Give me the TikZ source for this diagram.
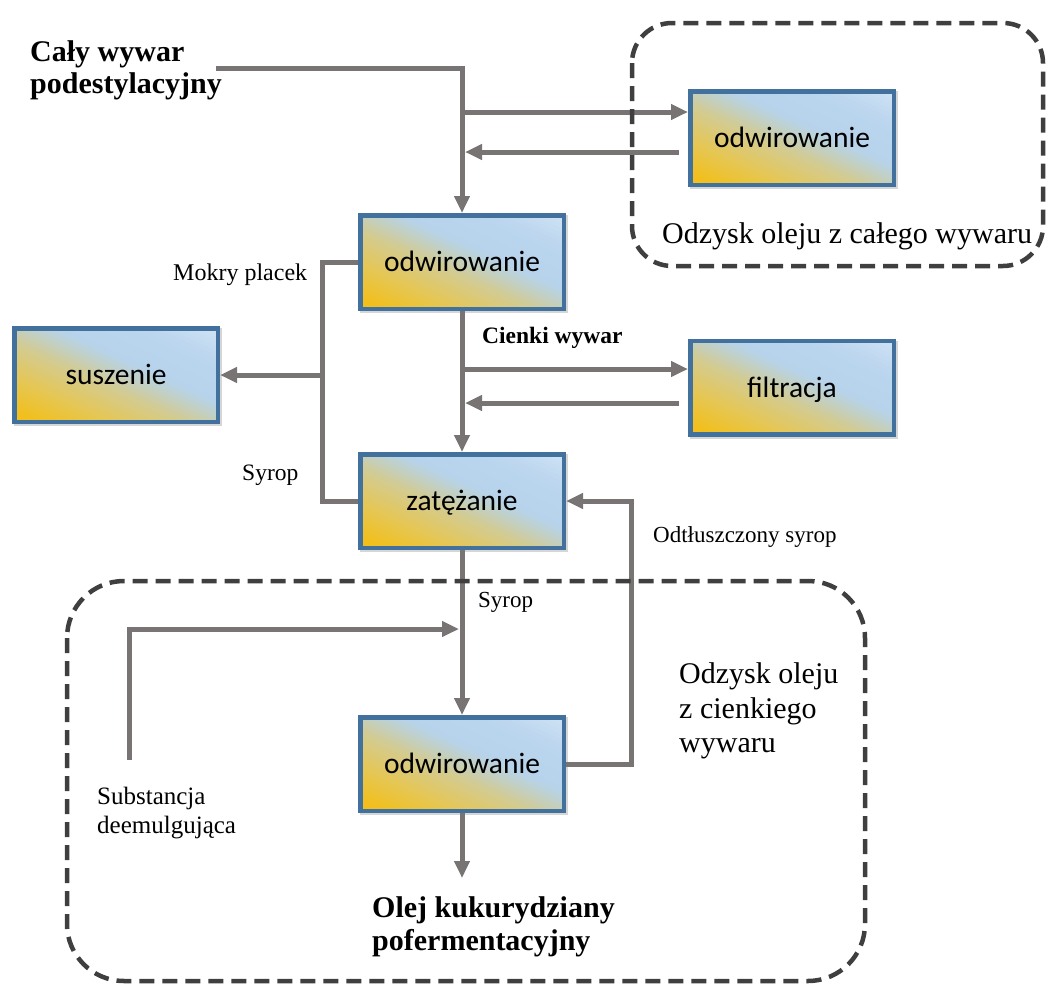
\documentclass[tikz,border=0pt]{standalone}
\usepackage{fontspec}
\setmainfont{Liberation Serif}
\newfontfamily\boxfont{Carlito}
\usetikzlibrary{arrows.meta,calc,backgrounds}

\definecolor{flowgray}{HTML}{787474}
\definecolor{boxedge}{HTML}{41719C}
\definecolor{groupedge}{HTML}{3F3F3F}
\definecolor{fgold}{HTML}{F6BE0C}
\definecolor{fgoldb}{HTML}{E4C75A}
\definecolor{fgoldc}{HTML}{D3CB90}
\definecolor{fgrey}{HTML}{C2D0C4}
\definecolor{fblue}{HTML}{B7D3EB}
\definecolor{fblueb}{HTML}{BAD5EE}
\definecolor{flight}{HTML}{CFE2F4}

% colour of the gold-to-blue ramp at position #1 (0 = lower left, 1 = upper right)
\newcommand\rampcolor[1]{%
  \ifdim#1pt<0.25pt \pgfmathsetmacro\ramppct{100*(0.25-#1)/0.25}\colorlet{rampc}{fgold!\ramppct!fgoldb}%
  \else\ifdim#1pt<0.42pt \pgfmathsetmacro\ramppct{100*(0.42-#1)/0.17}\colorlet{rampc}{fgoldb!\ramppct!fgoldc}%
  \else\ifdim#1pt<0.52pt \pgfmathsetmacro\ramppct{100*(0.52-#1)/0.1}\colorlet{rampc}{fgoldc!\ramppct!fgrey}%
  \else\ifdim#1pt<0.6pt \pgfmathsetmacro\ramppct{100*(0.6-#1)/0.08}\colorlet{rampc}{fgrey!\ramppct!fblue}%
  \else\ifdim#1pt<0.8pt \pgfmathsetmacro\ramppct{100*(0.8-#1)/0.2}\colorlet{rampc}{fblue!\ramppct!fblueb}%
  \else \pgfmathsetmacro\ramppct{100*(1-#1)/0.2}\colorlet{rampc}{fblueb!\ramppct!flight}%
  \fi\fi\fi\fi\fi}

\begin{document}
\begin{tikzpicture}[x=1pt,y=-1pt,
  proc/.style={draw=boxedge, line width=4.5pt,
    minimum width=203.5pt, minimum height=93.5pt, inner sep=0pt,
    font=\boxfont\fontsize{29.5}{31}\selectfont, text height=22pt, text depth=3pt},
  flow/.style={draw=flowgray, line width=5pt},
  tip/.style={-{Triangle[length=17pt,width=15pt]}},
  group/.style={draw=groupedge, line width=4.5pt, dash pattern=on 15pt off 8pt},
  lbl/.style={inner sep=0pt, anchor=base west, text=black},
  big/.style={font=\fontsize{30}{34}\selectfont},
  bigb/.style={font=\bfseries\fontsize{30}{34}\selectfont},
  small/.style={font=\fontsize{23.5}{28}\selectfont},
]
\useasboundingbox (0,0) rectangle (1047,983);

% process steps
\node[proc] (A) at (792,138)   {odwirowanie};
\node[proc] (B) at (462,262)   {odwirowanie};
\node[proc] (S) at (116,375)   {suszenie};
\node[proc] (F) at (792,387.5) {filtracja};
\node[proc] (Z) at (462,501)   {zatężanie};
\node[proc] (D) at (462,764)   {odwirowanie};

% box shadows and the diagonal gold-to-blue fill, behind the boxes
\begin{scope}[on background layer]
  \foreach \pn in {A,B,S,F,Z,D}{
    \fill[black, opacity=0.16] ($(\pn.center)+(-102,-47)$) rectangle ($(\pn.center)+(106,51)$);
    \begin{scope}[shift={(\pn.center)}, x=203.5pt, y=93.5pt]
      \clip (-0.5,-0.5) rectangle (0.5,0.5);
      \foreach \ri in {0,...,39}{%
        \pgfmathsetmacro\rampf{(\ri+0.5)/40}%
        \pgfmathsetmacro\rampa{2*\ri/40}%
        \pgfmathsetmacro\rampb{2*(\ri+1)/40+0.01}%
        \rampcolor{\rampf}%
        \fill[rampc] (\rampa+1,-2) -- (\rampa-3,2) -- (\rampb-3,2) -- (\rampb+1,-2) -- cycle;
      }
    \end{scope}
  }
\end{scope}

% free ends and junctions of the flow lines
\coordinate (inp) at (216,68);
\coordinate (jA)  at (462,112);
\coordinate (rA)  at (465,152);
\coordinate (jF)  at (462,369);
\coordinate (rF)  at (465,403);
\coordinate (mk)  at (322,375);
\coordinate (sub) at (129,760);
\coordinate (jS)  at (459,629);
\coordinate (oil) at (462,878);

% whole stillage in, side loop through the first centrifuge
\draw[flow,tip] (inp) -| (B.north);
\draw[flow,tip] (jA) -- ($(A.west)+(0,-26)$);
\draw[flow,tip] ($(A.west)+(-9,14)$) -- (rA);

% thin stillage, side loop through filtration
\draw[flow,tip] (B.south) -- (Z.north);
\draw[flow,tip] (jF) -- ($(F.west)+(0,-18.5)$);
\draw[flow,tip] ($(F.west)+(-9,15.5)$) -- (rF);

% wet cake and syrup to drying
\draw[flow] (B.west) -- ++(-36,0) |- (Z.west);
\draw[flow,tip] (mk) -- (S.east);

% syrup to the last centrifuge, demulsifier feed, de-oiled syrup return
\draw[flow,tip] (Z.south) -- (D.north);
\draw[flow,tip] (sub) |- (jS);
\draw[flow,tip] (D.east) -- ++(65,0) |- (Z.east);
\draw[flow,tip] (D.south) -- (oil);

% recovery areas
\draw[group, rounded corners=40pt] (632,23) rectangle (1043,266);
\draw[group, rounded corners=57pt] (67,581) rectangle (865,981);

% labels
\node[lbl,bigb] (t1a) at (30,61)  {Cały wywar};
\node[lbl,bigb] (t1b) at (30,93)  {podestylacyjny};
\node[lbl,big]  (t2)  at (662,243) {Odzysk oleju z całego wywaru};
\node[lbl,font=\fontsize{24}{28}\selectfont] (t3) at (173,280) {Mokry placek};
\node[lbl,small] (t4) at (242,480) {Syrop};
\node[lbl,font=\bfseries\fontsize{23.5}{28}\selectfont] (t5) at (482,343) {Cienki wywar};
\node[lbl,font=\fontsize{23}{28}\selectfont] (t6) at (653,542) {Odtłuszczony syrop};
\node[lbl,font=\fontsize{23}{28}\selectfont] (t7) at (478,607) {Syrop};
\node[lbl,big] (t8a) at (679,683) {Odzysk oleju};
\node[lbl,big] (t8b) at (679,718) {z cienkiego};
\node[lbl,big] (t8c) at (679,752) {wywaru};
\node[lbl,font=\fontsize{25}{29}\selectfont] (t9a) at (97,804) {Substancja};
\node[lbl,font=\fontsize{25}{29}\selectfont] (t9b) at (97,833) {deemulgująca};
\node[lbl,bigb] (t10a) at (372,917) {Olej kukurydziany};
\node[lbl,bigb] (t10b) at (372,950) {pofermentacyjny};
\end{tikzpicture}
\end{document}
